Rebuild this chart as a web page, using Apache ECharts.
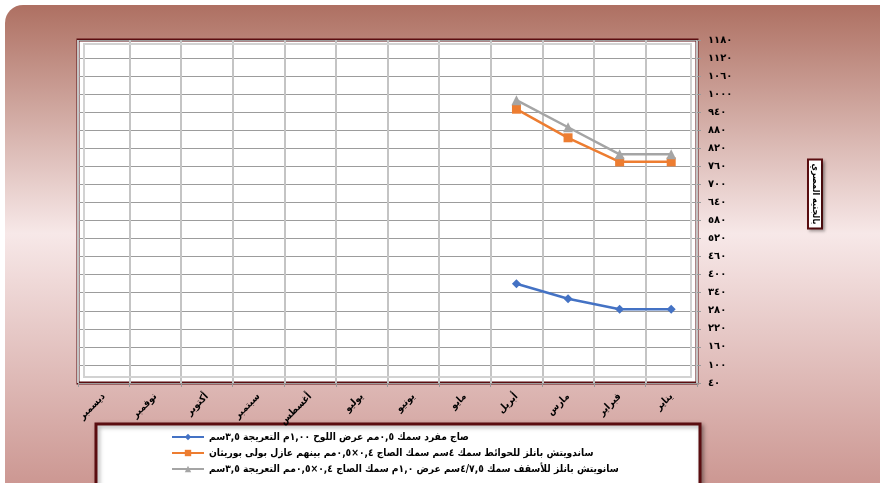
<!DOCTYPE html>
<html>
<head>
<meta charset="utf-8">
<script src="https://cdn.jsdelivr.net/npm/echarts@6/dist/echarts.min.js"></script>
<style>
  html, body { margin: 0; padding: 0; background: #ffffff; }
  #chart { width: 880px; height: 483px; }
</style>
</head>
<body>
<div id="chart"></div>
<script>
// months, January first (axis is inverted so January sits on the right)
const months = ['يناير', 'فبراير', 'مارس', 'أبريل', 'مايو', 'يونيو', 'يوليو', 'أغسطس', 'سبتمبر', 'أكتوبر', 'نوفمبر', 'ديسمبر'];

const seriesNames = [
  'صاج مفرد سمك ٠,٥مم عرض اللوح ١,٠٠م التعريجة ٣,٥سم',
  'ساندويتش بانلز للحوائط سمك ٤سم سمك الصاج ٠,٤×٠,٥مم بينهم عازل بولى بوريثان',
  'سانويتش بانلز للأسقف سمك ٤/٧,٥سم عرض ١,٠م سمك الصاج ٠,٤×٠,٥مم التعريجة ٣,٥سم'
];

// prices (EGP)
const singleSheet = [285, 285, 320, 370, null, null, null, null, null, null, null, null];
const wallPanels  = [775, 775, 855, 950, null, null, null, null, null, null, null, null];
const roofPanels  = [800, 800, 890, 980, null, null, null, null, null, null, null, null];

const yAxisName = 'بالجنيه المصري';
const yMin = 40, yMax = 1180, yStep = 60;

const arabicDigits = '٠١٢٣٤٥٦٧٨٩';
const toArabic = v => String(v).replace(/\d/g, d => arabicDigits[d]);

const maroon = '#5a0d10';
const fontFamily = '"DejaVu Sans", sans-serif';
const narrowFont = '"DejaVu Sans Condensed", "DejaVu Sans", sans-serif';

const chart = echarts.init(document.getElementById('chart'));

const option = {
  animation: false,
  textStyle: { fontFamily: fontFamily },
  graphic: [
    {
      type: 'rect',
      z: -10,
      silent: true,
      shape: { x: 5, y: 5, width: 900, height: 520, r: 18 },
      style: {
        fill: new echarts.graphic.LinearGradient(0, 0, 0, 1, [
          { offset: 0, color: '#ae7062' },
          { offset: 0.44, color: '#f7e8e8' },
          { offset: 1, color: '#c58a84' }
        ])
      }
    },
    {
      // Excel-like bevel inside the plot area
      type: 'rect',
      z: 1,
      silent: true,
      shape: { x: 84, y: 44, width: 607, height: 333 },
      style: { fill: 'none', stroke: '#d2d2d2', lineWidth: 2 }
    },
    {
      // legend frame
      type: 'rect',
      z: 0,
      silent: true,
      shape: { x: 96, y: 424, width: 604, height: 70 },
      style: {
        fill: '#ffffff',
        stroke: maroon,
        lineWidth: 3,
        shadowBlur: 4,
        shadowColor: 'rgba(0,0,0,0.35)',
        shadowOffsetX: 2,
        shadowOffsetY: 2
      }
    },
    {
      type: 'text',
      z: 5,
      x: 815,
      y: 194,
      rotation: -Math.PI / 2,
      style: {
        text: yAxisName,
        font: 'bold 9px ' + narrowFont,
        fill: '#000000',
        align: 'center',
        verticalAlign: 'middle',
        backgroundColor: '#ffffff',
        borderColor: maroon,
        borderWidth: 2,
        padding: [2, 3, 1, 3],
        shadowBlur: 3,
        shadowColor: 'rgba(0,0,0,0.3)',
        shadowOffsetX: 2,
        shadowOffsetY: 2
      }
    }
  ],
  grid: {
    left: 78,
    right: 183,
    top: 40,
    bottom: 100,
    show: true,
    backgroundColor: '#ffffff',
    borderColor: maroon,
    borderWidth: 3
  },
  legend: {
    orient: 'vertical',
    left: 166,
    top: 427,
    itemGap: 6,
    itemWidth: 32,
    itemHeight: 8,
    data: seriesNames,
    textStyle: { color: '#000000', fontSize: 10.2, fontWeight: 'bold', fontFamily: narrowFont }
  },
  xAxis: {
    type: 'category',
    data: months,
    inverse: true,
    boundaryGap: true,
    axisLine: { show: false },
    axisTick: { show: true, length: 4, lineStyle: { color: '#9a9a9a' } },
    splitLine: { show: true, interval: 0, lineStyle: { color: '#c4c4c4', width: 2 } },
    axisLabel: {
      interval: 0,
      rotate: 45,
      margin: 12,
      color: '#000000',
      fontSize: 10,
      fontWeight: 'bold',
      fontFamily: narrowFont
    }
  },
  yAxis: {
    type: 'value',
    position: 'right',
    min: yMin,
    max: yMax,
    interval: yStep,
    axisLine: { show: false },
    axisTick: { show: true, length: 4, lineStyle: { color: '#9a9a9a' } },
    splitLine: { show: true, lineStyle: { color: '#9c9c9c', width: 1 } },
    axisLabel: {
      margin: 11,
      color: '#000000',
      fontSize: 10,
      fontWeight: 'bold',
      fontFamily: fontFamily,
      formatter: v => toArabic(v)
    }
  },
  series: [
    {
      name: seriesNames[0],
      type: 'line',
      data: singleSheet,
      symbol: 'diamond',
      symbolSize: 9,
      itemStyle: { color: '#4472c4' },
      lineStyle: { width: 2.5, color: '#4472c4' }
    },
    {
      name: seriesNames[1],
      type: 'line',
      data: wallPanels,
      symbol: 'rect',
      symbolSize: 9,
      itemStyle: { color: '#ed7d31' },
      lineStyle: { width: 2.5, color: '#ed7d31' }
    },
    {
      name: seriesNames[2],
      type: 'line',
      data: roofPanels,
      symbol: 'triangle',
      symbolSize: 10,
      itemStyle: { color: '#a5a5a5' },
      lineStyle: { width: 2.5, color: '#a5a5a5' }
    }
  ]
};

chart.setOption(option);
</script>
</body>
</html>
